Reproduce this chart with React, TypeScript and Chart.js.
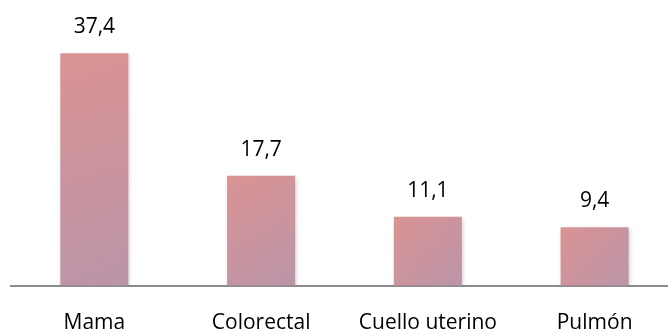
import React, { useEffect, useRef } from "react";
import { Chart, registerables } from "chart.js";

Chart.register(...registerables);

const categories = ["Mama", "Colorectal", "Cuello uterino", "Pulmón"];
const values = [37.4, 17.7, 11.1, 9.4];
const valueLabels = ["37,4", "17,7", "11,1", "9,4"];

const FONT = "'Open Sans', sans-serif";

const gradientPlugin = {
  id: "barGradient",
  beforeDatasetsDraw(chart: any) {
    const ctx = chart.ctx;
    const meta = chart.getDatasetMeta(0);
    meta.data.forEach((el: any) => {
      const left = el.x - el.width / 2;
      const right = el.x + el.width / 2;
      const g = ctx.createLinearGradient(left, el.y, right, el.base);
      g.addColorStop(0, "#DA9393");
      g.addColorStop(1, "#BB95A9");
      el.options = Object.assign({}, el.options, { backgroundColor: g });
    });
    ctx.save();
    ctx.shadowColor = "rgba(0,0,0,0.18)";
    ctx.shadowBlur = 4;
    ctx.shadowOffsetX = 1;
    ctx.shadowOffsetY = 2;
  },
  afterDatasetsDraw(chart: any) {
    const ctx = chart.ctx;
    ctx.restore();
    const meta = chart.getDatasetMeta(0);
    ctx.save();
    ctx.fillStyle = "#000";
    ctx.font = `21px ${FONT}`;
    ctx.textAlign = "center";
    ctx.textBaseline = "middle";
    meta.data.forEach((el: any, i: number) => {
      ctx.fillText(valueLabels[i], el.x, el.y - 26);
    });
    ctx.restore();
  },
};

export default function App() {
  const ref = useRef<HTMLCanvasElement>(null);
  useEffect(() => {
    if (!ref.current) return;
    const chart = new Chart(ref.current, {
      type: "bar",
      data: {
        labels: categories,
        datasets: [
          {
            data: values,
            backgroundColor: "#D09499",
            borderWidth: 0,
            categoryPercentage: 1,
            barPercentage: 0.408,
          },
        ],
      },
      options: {
        responsive: false,
        animation: false,
        devicePixelRatio: 1,
        layout: { padding: { left: 11, right: 2, top: 37, bottom: 0 } },
        plugins: { legend: { display: false }, tooltip: { enabled: false } },
        scales: {
          y: { display: false, min: 0, max: 40 },
          x: {
            grid: { display: false, drawTicks: false },
            border: { display: true, color: "#8C8C8C", width: 2 },
            ticks: {
              color: "#000",
              padding: 25,
              maxRotation: 0,
              font: { family: FONT, size: 21 },
            },
          },
        },
      },
      plugins: [gradientPlugin],
    });
    return () => chart.destroy();
  }, []);
  return (
    <div style={{ position: "fixed", left: 0, top: 0, width: 668, height: 333, overflow: "hidden", background: "#fff" }}>
      <canvas ref={ref} width={680} height={361} style={{ display: "block" }} />
    </div>
  );
}
